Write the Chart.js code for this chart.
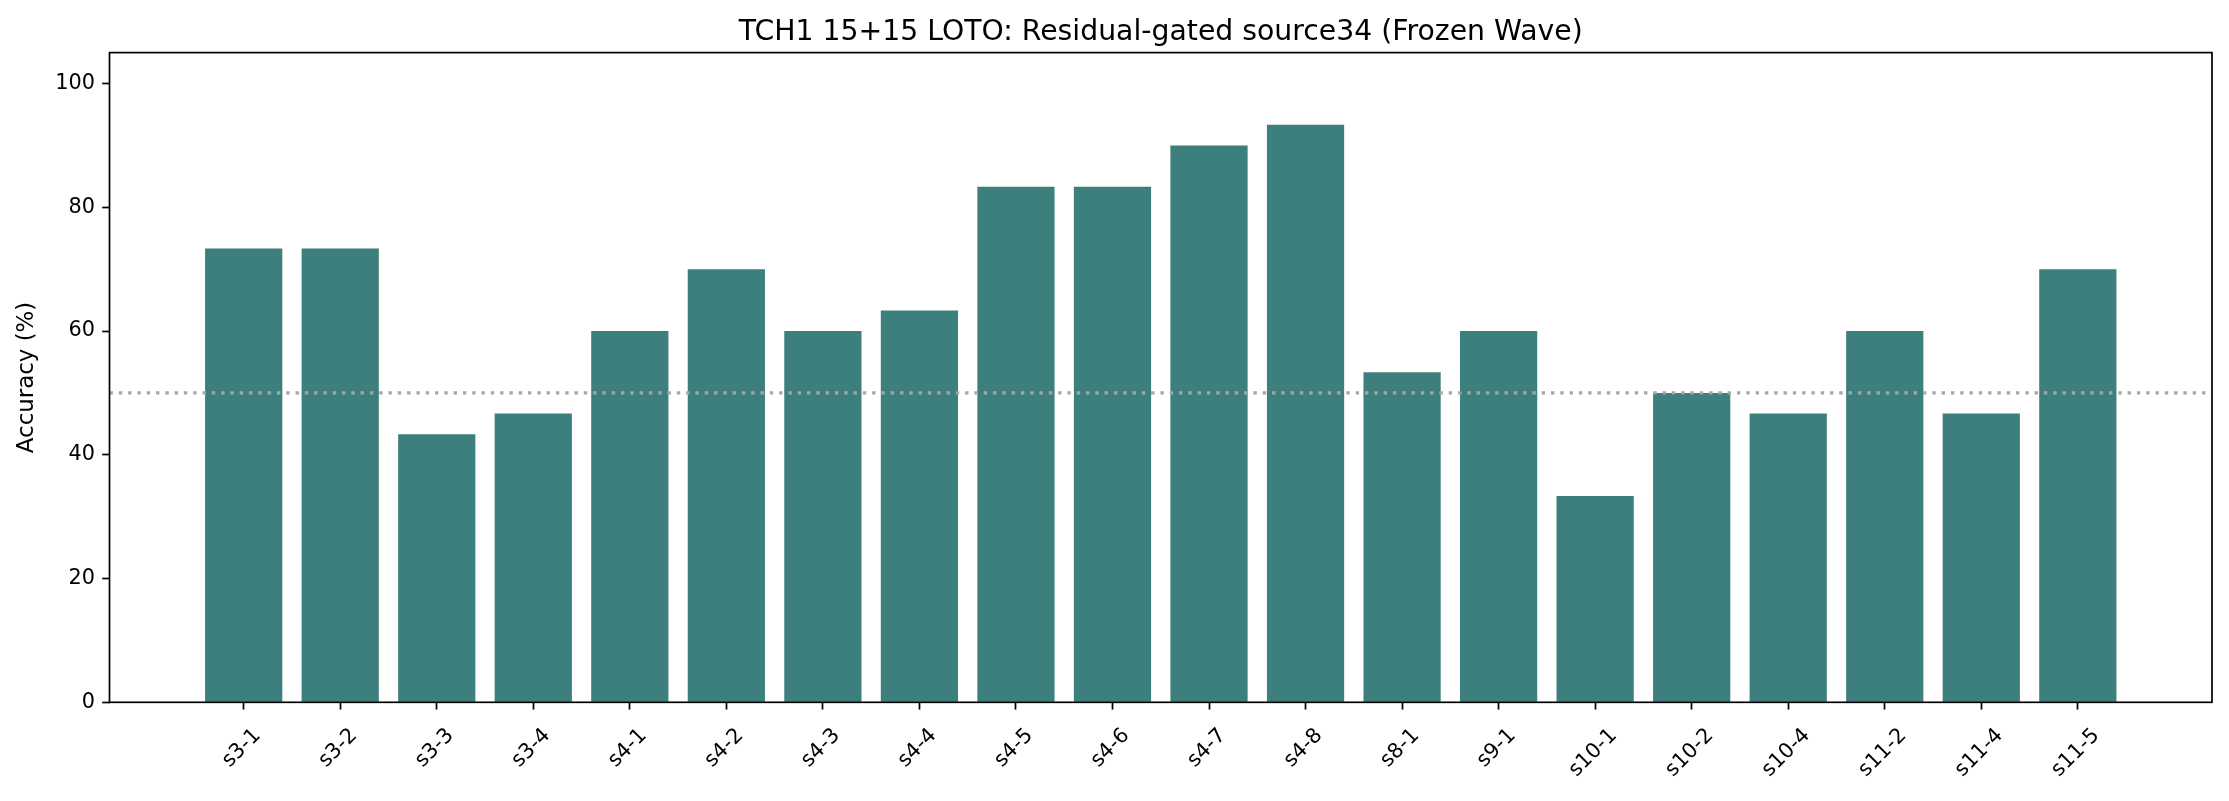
<!DOCTYPE html>
<html>
<head>
<meta charset="utf-8">
<script src="https://cdn.jsdelivr.net/npm/chart.js@4"></script>
<style>
  html, body { margin: 0; padding: 0; background: #fff; }
  #wrap { width: 2229px; height: 801px; }
</style>
</head>
<body>
<div id="wrap"><canvas id="accChart" width="2229" height="801"></canvas></div>
<script>
// data
const sessions = ['s3-1', 's3-2', 's3-3', 's3-4', 's4-1', 's4-2', 's4-3', 's4-4', 's4-5', 's4-6',
                  's4-7', 's4-8', 's8-1', 's9-1', 's10-1', 's10-2', 's10-4', 's11-2', 's11-4', 's11-5'];
const accuracy = [73.33, 73.33, 43.33, 46.67, 60, 70, 60, 63.33, 83.33, 83.33,
                  90, 93.33, 53.33, 60, 33.33, 50, 46.67, 60, 46.67, 70];
const chanceLevel = 50;
const yTicks = [0, 20, 40, 60, 80, 100];
const yMax = 105;
const titleText = 'TCH1 15+15 LOTO: Residual-gated source34 (Frozen Wave)';
const yLabel = 'Accuracy (%)';

const FONT = "'DejaVu Sans', sans-serif";
const BAR_COLOR = '#3d7f7c';
const xMargin = (sessions.length - 1 + 0.8) * 0.05;
const xMin = -0.4 - xMargin;
const xMax = sessions.length - 1 + 0.4 + xMargin;

// frame, title and rotated category labels (matplotlib style)
const framePlugin = {
    id: 'frame',
    afterDraw(chart) {
        const { ctx, chartArea: a, scales } = chart;
        ctx.save();
        ctx.strokeStyle = '#000';
        ctx.lineWidth = 1.7;
        ctx.strokeRect(a.left, a.top, a.right - a.left, a.bottom - a.top);

        ctx.fillStyle = '#000';
        ctx.font = '28.3px ' + FONT;
        ctx.textAlign = 'center';
        ctx.textBaseline = 'alphabetic';
        ctx.fillText(titleText, (a.left + a.right) / 2, a.top - 12.5);

        ctx.font = '20.8px ' + FONT;
        ctx.textBaseline = 'middle';
        sessions.forEach((s, i) => {
            const x = scales.x.getPixelForValue(i);
            const w = ctx.measureText(s).width;
            const cy = a.bottom + 22.7 + (w + 20.8) * 0.3536;
            ctx.save();
            ctx.translate(x - 2, cy);
            ctx.rotate(-Math.PI / 4);
            ctx.fillText(s, 0, 0);
            ctx.restore();
        });
        ctx.restore();
    }
};

new Chart(document.getElementById('accChart').getContext('2d'), {
    type: 'bar',
    data: {
        datasets: [
            {
                type: 'line',
                data: [{ x: xMin, y: chanceLevel }, { x: xMax, y: chanceLevel }],
                borderColor: '#a6a6a6',
                borderWidth: 3.3,
                borderDash: [3.4, 5.9],
                pointRadius: 0,
                order: 0
            },
            {
                data: sessions.map((s, i) => ({ x: i, y: accuracy[i] })),
                backgroundColor: BAR_COLOR,
                borderWidth: 0,
                barPercentage: 0.8,
                categoryPercentage: 1.0,
                order: 1
            }
        ]
    },
    options: {
        responsive: false,
        animation: false,
        devicePixelRatio: 1,
        layout: { padding: { left: 0, right: 17, top: 52.6, bottom: 0 } },
        plugins: {
            legend: { display: false },
            title: { display: false },
            tooltip: { enabled: false }
        },
        scales: {
            x: {
                type: 'linear',
                min: xMin,
                max: xMax,
                offset: false,
                afterBuildTicks: axis => { axis.ticks = sessions.map((s, i) => ({ value: i })); },
                afterFit: axis => { axis.height = 801 - 702.3; },
                ticks: { display: false },
                border: { display: false },
                grid: {
                    offset: false,
                    drawOnChartArea: false,
                    drawTicks: true,
                    tickLength: 7.3,
                    tickWidth: 1.7,
                    tickColor: '#000'
                }
            },
            y: {
                min: 0,
                max: yMax,
                afterBuildTicks: axis => { axis.ticks = yTicks.map(v => ({ value: v })); },
                afterFit: axis => { axis.width = 109.5; },
                ticks: {
                    color: '#000',
                    font: { family: FONT, size: 20.8 },
                    padding: 7.3
                },
                border: { display: false },
                grid: {
                    drawOnChartArea: false,
                    drawTicks: true,
                    tickLength: 7.3,
                    tickWidth: 1.7,
                    tickColor: '#000'
                },
                title: {
                    display: true,
                    text: yLabel,
                    color: '#000',
                    font: { family: FONT, size: 22.9 },
                    padding: { top: 13, bottom: 0 }
                }
            }
        }
    },
    plugins: [framePlugin]
});
</script>
</body>
</html>
